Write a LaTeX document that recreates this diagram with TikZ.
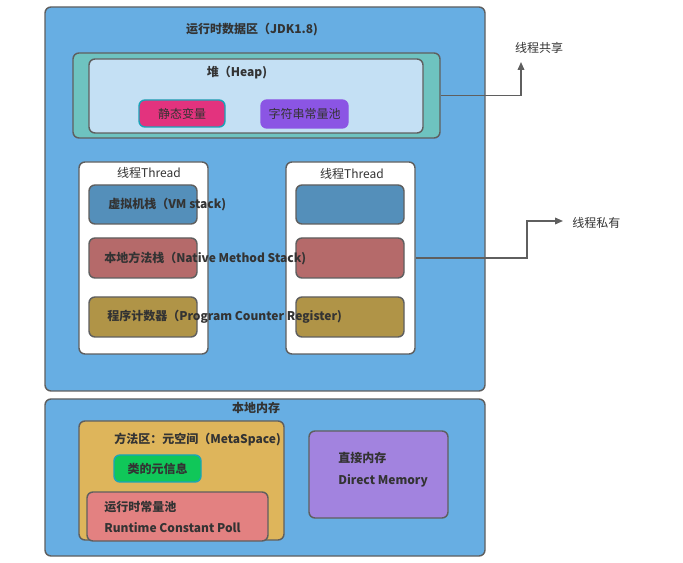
\documentclass[tikz,border=0pt]{standalone}
\usepackage{fontspec}
\setmainfont{Noto Sans CJK SC}
\usepackage{xcolor}
\usepackage{tikz}
\usetikzlibrary{arrows.meta, positioning, fit}
\definecolor{rtblue}{HTML}{67AEE3}
\definecolor{heapteal}{HTML}{6EC3C0}
\definecolor{heapinner}{HTML}{C4E0F4}
\definecolor{staticpink}{HTML}{E3337E}
\definecolor{staticrim}{HTML}{1AA4B8}
\definecolor{strpurple}{HTML}{8B55E4}
\definecolor{vmblue}{HTML}{548FBA}
\definecolor{nativered}{HTML}{B56A6A}
\definecolor{pcgold}{HTML}{B09447}
\definecolor{metagold}{HTML}{DEB55B}
\definecolor{classgreen}{HTML}{10C759}
\definecolor{rcpred}{HTML}{E38181}
\definecolor{directpurple}{HTML}{A283DF}
\definecolor{linegray}{HTML}{5F5F5F}
\definecolor{inkgray}{HTML}{333333}

\tikzset{
  area/.style={draw=linegray, line width=1.1pt, rounded corners=4.5pt, inner sep=0pt},
  label/.style={text=inkgray, font=\fontsize{9}{11}\selectfont, inner sep=0pt},
  boldlabel/.style={label, font=\fontsize{9}{11}\selectfont\bfseries},
  link/.style={draw=linegray, line width=1.1pt, -{Triangle[length=6pt,width=5pt]}}
}

\begin{document}
\begin{tikzpicture}[x=0.75pt, y=-0.75pt]

    \useasboundingbox (0,0) rectangle (683,563);

    % =================================================================
    % RUNTIME DATA AREA
    % =================================================================
    \node[area, fill=rtblue, fit={(45,7) (485,391)}] (runtime) {};
    \node[boldlabel] (runtimetitle) at (252,30) {运行时数据区（JDK1.8)};

    % heap
    \node[area, fill=heapteal, fit={(73,53) (440,138)}] (heapouter) {};
    \node[area, fill=heapinner, fit={(89,59) (423,133)}] (heap) {};
    \node[boldlabel] (heaptitle) at (237,73) {堆（Heap)};
    \node[area, draw=staticrim, fill=staticpink, fit={(139,100) (225,127)}] (static) {};
    \node[label] at (static.center) {静态变量};
    \node[area, draw=strpurple, fill=strpurple, fit={(261,100) (348,128)}] (strpool) {};
    \node[label] at (strpool.center) {字符串常量池};

    % =================================================================
    % THREADS
    % =================================================================
    \node[area, fill=white, fit={(79,162) (208,354)}] (threadA) {};
    \node[label] (threadAtitle) at (149,173) {线程Thread};
    \node[area, fill=vmblue, fit={(89,185) (197,224)}] (vmA) {};
    \node[area, fill=nativered, fit={(89,238) (197,278)}] (nativeA) {};
    \node[area, fill=pcgold, fit={(89,297) (197,337)}] (pcA) {};

    \node[area, fill=white, fit={(286,162) (415,354)}] (threadB) {};
    \node[label] (threadBtitle) at (352,174) {线程Thread};
    \node[area, fill=vmblue, fit={(296,185) (404,224)}] (vmB) {};
    \node[area, fill=nativered, fit={(296,238) (404,278)}] (nativeB) {};
    \node[area, fill=pcgold, fit={(296,297) (404,337)}] (pcB) {};

    % texts run over both thread boxes
    \node[boldlabel, anchor=west] (vmtext) at (108,205) {虚拟机栈（VM stack)};
    \node[boldlabel, anchor=west] (nativetext) at (104,258) {本地方法栈（Native Method Stack)};
    \node[boldlabel, anchor=west] (pctext) at (107,317) {程序计数器（Program Counter Register)};

    % =================================================================
    % NATIVE MEMORY
    % =================================================================
    \node[area, fill=rtblue, fit={(45,399) (485,556)}] (native) {};
    \node[boldlabel] (nativetitle) at (256,408) {本地内存};

    \node[area, fill=metagold, fit={(79,421) (284,540)}] (meta) {};
    \node[boldlabel, anchor=west] (metatitle) at (114,440) {方法区：元空间（MetaSpace)};
    \node[area, draw=staticrim, fill=classgreen, fit={(114,455) (201,482)}] (classinfo) {};
    \node[boldlabel] at (classinfo.center) {类的元信息};
    \node[area, fill=rcpred, fit={(87,492) (268,541)}] (rcpool) {};
    \node[boldlabel, anchor=west] (rcpooltext) at (104,507) {运行时常量池};
    \node[boldlabel, anchor=west] (rcpoolen) at (104,528) {Runtime Constant Poll};

    \node[area, fill=directpurple, fit={(309,431) (448,518)}] (direct) {};
    \node[boldlabel, anchor=west] (directtext) at (338,458) {直接内存};
    \node[boldlabel, anchor=west] (directen) at (338,481) {Direct Memory};

    % =================================================================
    % SHARED / PRIVATE MARKERS
    % =================================================================
    \coordinate (sharedtip) at (521,62);
    \node[label] (shared) at (539,48) {线程共享};
    \draw[link] (heapouter.east) -| (sharedtip);

    \coordinate (privatebend) at (527,221);
    \coordinate (privatetip) at (563,221);
    \node[label, anchor=west] (private) at (572,223) {线程私有};
    \draw[link] (threadB.east) -| (privatebend) -- (privatetip);

\end{tikzpicture}
\end{document}
